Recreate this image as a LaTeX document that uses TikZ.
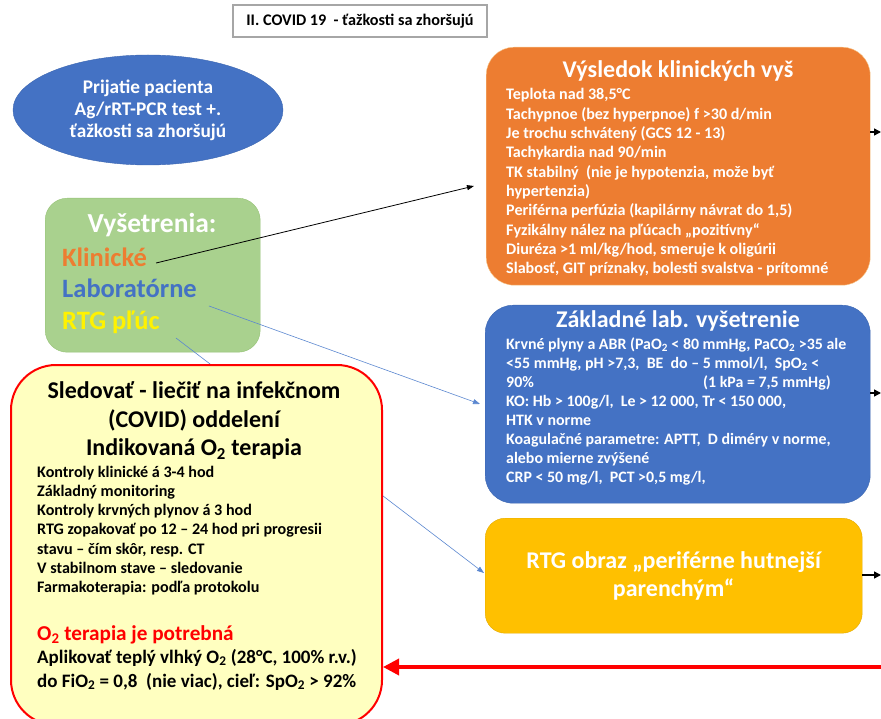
\documentclass[tikz,border=0pt]{standalone}
\usepackage{fontspec}
\setmainfont{Carlito}
\usetikzlibrary{arrows.meta,shapes.geometric}

\definecolor{orangebox}{HTML}{ED7D31}
\definecolor{orangeline}{HTML}{F6C98F}
\definecolor{bluebox}{HTML}{4472C4}
\definecolor{blueline}{HTML}{3C66B0}
\definecolor{goldbox}{HTML}{FFC000}
\definecolor{goldline}{HTML}{E3AA00}
\definecolor{greenbox}{HTML}{A9D18E}
\definecolor{greenline}{HTML}{95C175}
\definecolor{creambox}{HTML}{FFFFC0}
\definecolor{linkblue}{HTML}{5B87D0}
\definecolor{framegray}{HTML}{A6A6A6}

\tikzset{
  box/.style={rounded corners=#1, inner sep=0pt, anchor=north west},
  line/.style={inner sep=0pt, anchor=base west, font=\bfseries\fontsize{16.1}{19}\selectfont},
  heading/.style={inner sep=0pt, anchor=base, font=\bfseries\fontsize{24}{28}\selectfont},
  item/.style={inner sep=0pt, anchor=base west, font=\bfseries\fontsize{26.5}{32}\selectfont},
  outarrow/.style={line width=1.5pt, -{Triangle[length=7pt,width=7pt]}},
  linkarrow/.style={color=linkblue, line width=0.6pt, -{Triangle[length=7pt,width=5pt]}},
}

\begin{document}
\begin{tikzpicture}[x=1pt,y=-1pt]
\useasboundingbox (0,0) rectangle (881,719);

% nadpis
\node[draw=framegray, line width=1.2pt, minimum width=254, minimum height=32, inner sep=0pt,
  font=\bfseries\fontsize{16.2}{18}\selectfont] (nadpis) at (360,21) {II. COVID 19\ \ - ťažkosti sa zhoršujú};

% prijatie pacienta
\node[ellipse, fill=bluebox, draw=blueline, minimum width=270, minimum height=110, align=center,
  text=white, font=\bfseries\fontsize{19.3}{22}\selectfont] (prijatie) at (148,110)
  {Prijatie pacienta\\Ag/rRT-PCR test +.\\ťažkosti sa zhoršujú};

% vysetrenia
\node[box=22pt, fill=greenbox, draw=greenline, minimum width=215, minimum height=154] (vysetr) at (45,198) {};
\node[heading, text=white, font=\bfseries\fontsize{27.5}{32}\selectfont] (vysetr-t) at (152,233) {Vyšetrenia:};
\node[item, text=orangebox] (klin) at (62,267) {Klinické};
\node[item, text=bluebox] (lab) at (62,298) {Laboratórne};
\node[item, text=yellow] (rtgp) at (62,330) {RTG pľúc};

% spojnice
\coordinate (klin-end) at (474,186);
\coordinate (lab-end) at (480,404);
\coordinate (rtgp-end) at (484,573);
\draw[line width=0.8pt, -{Triangle[length=7pt,width=5pt]}] ([xshift=9pt,yshift=4pt]klin.base east) -- (klin-end);
\draw[linkarrow] ([xshift=12pt,yshift=-8pt]lab.base east) -- (lab-end);
\draw[linkarrow] ([xshift=16pt,yshift=-8pt]rtgp.base east) -- (rtgp-end);

% sledovat
\node[box=45pt, fill=creambox, draw=red, line width=2pt, minimum width=371, minimum height=360] (sled) at (10,364) {};
\foreach \t [count=\i] in {{Sledovať - liečiť na infekčnom}, {(COVID) oddelení}, {Indikovaná O\textsubscript{2} terapia}}
  \node[heading] (sled-t\i) at (194, 370+28.5*\i) {\t};
\foreach \t [count=\i] in {{Kontroly klinické á 3-4 hod}, {Základný monitoring}, {Kontroly krvných plynov á 3 hod},
    {RTG zopakovať po 12 – 24 hod pri progresii}, {stavu – čím skôr, resp. CT}, {V stabilnom stave – sledovanie},
    {Farmakoterapia: podľa protokolu}}
  \node[line] (sled-\i) at (37, 457.7+19.3*\i) {\t};
\node[line, text=red, font=\bfseries\fontsize{21.2}{26}\selectfont] (potreba) at (37,640) {O\textsubscript{2} terapia je potrebná};
\node[line, font=\bfseries\fontsize{19}{24}\selectfont] (aplik) at (37,663) {Aplikovať teplý vlhký O\textsubscript{2} (28°C, 100\% r.v.)};
\node[line, font=\bfseries\fontsize{19}{24}\selectfont] (fio) at (37,687) {do FiO\textsubscript{2} = 0,8\ \ (nie viac), cieľ: SpO\textsubscript{2} > 92\%};

% vysledok klinickych vysetreni
\node[box=28pt, fill=orangebox, draw=orangeline, minimum width=384, minimum height=238] (vysl) at (486,47) {};
\node[heading, text=white] (vysl-t) at (678,78) {Výsledok klinických vyš};
\foreach \t [count=\i] in {{Teplota nad 38,5°C}, {Tachypnoe (bez hyperpnoe) f >30 d/min}, {Je trochu schvátený (GCS 12 - 13)},
    {Tachykardia nad 90/min}, {TK stabilný\ \ (nie je hypotenzia, može byť}, {hypertenzia)},
    {Periférna perfúzia (kapilárny návrat do 1,5)}, {Fyzikálny nález na pľúcach „pozitívny“},
    {Diuréza >1 ml/kg/hod, smeruje k oligúrii}, {Slabosť, GIT príznaky, bolesti svalstva - prítomné}}
  \node[line, text=white] (vysl-\i) at (506, 80.7+19.3*\i) {\t};

% zakladne lab. vysetrenie
\node[box=28pt, fill=bluebox, draw=blueline, minimum width=385, minimum height=198] (lab-box) at (485,305) {};
\node[heading, text=white] (lab-t) at (678,327) {Základné lab. vyšetrenie};
\foreach \t [count=\i] in {{Krvné plyny a ABR (PaO\textsubscript{2} < 80 mmHg, PaCO\textsubscript{2} >35 ale},
    {<55 mmHg, pH >7,3,\ \ BE\ \ do – 5 mmol/l,\ \ SpO\textsubscript{2} <}, {\makebox[197pt][l]{90\%}(1 kPa = 7,5 mmHg)},
    {KO: Hb > 100g/l,\ \ Le > 12 000, Tr < 150 000,}, {HTK v norme}, {Koagulačné parametre: APTT,\ \ D diméry v norme,},
    {alebo mierne zvýšené}, {CRP < 50 mg/l,\ \ PCT >0,5 mg/l,}}
  \node[line, text=white, font=\bfseries\fontsize{15.9}{19}\selectfont] (lab-\i) at (506, 330+19*\i) {\t};

% rtg obraz
\node[box=20pt, fill=goldbox, draw=goldline, minimum width=377, minimum height=115, text=white, align=center,
  font=\bfseries\fontsize{24}{28}\selectfont] (rtg) at (485,518) {RTG obraz „periférne hutnejší\\parenchým“};

% vystupy
\coordinate (o1) at (881,132);
\coordinate (o2) at (881,393);
\coordinate (o3) at (881,575);
\coordinate (spat) at (881,667);
\draw[outarrow] (vysl.east |- o1) -- (o1);
\draw[outarrow] (lab-box.east |- o2) -- (o2);
\draw[outarrow] (rtg.east |- o3) -- (o3);
\draw[red, line width=3.5pt, -{Triangle[length=16pt,width=16pt]}] (spat) -- (sled.east |- spat);
\end{tikzpicture}
\end{document}
